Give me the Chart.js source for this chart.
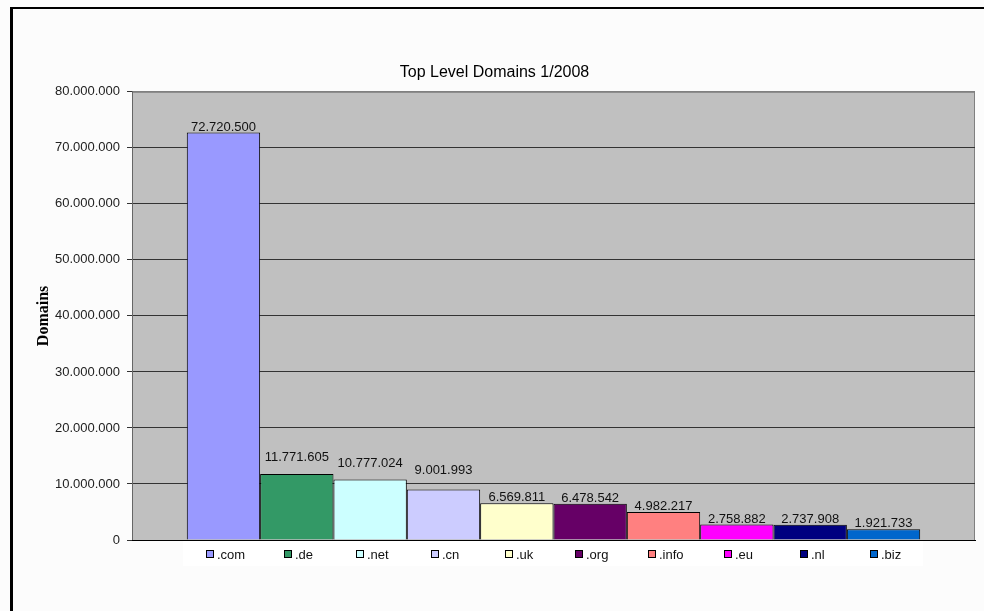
<!DOCTYPE html>
<html>
<head>
<meta charset="utf-8">
<script src="https://cdn.jsdelivr.net/npm/chart.js@4/dist/chart.umd.min.js"></script>
<style>
  html, body { margin: 0; padding: 0; background: #fcfcfc; }
  canvas { display: block; }
</style>
</head>
<body>
<canvas id="tldChart" width="984" height="611"></canvas>
<script>
// Dados
const domains = ['.com', '.de', '.net', '.cn', '.uk', '.org', '.info', '.eu', '.nl', '.biz'];
const counts = [72720500, 11771605, 10777024, 9001993, 6569811, 6478542, 4982217, 2758882, 2737908, 1921733];
const barColors = ['#9999FF', '#339966', '#CCFFFF', '#CCCCFF', '#FFFFCC', '#660066', '#FF8080', '#FF00FF', '#000080', '#0066CC'];
const yMax = 80000000;
const yStep = 10000000;

const FONT = 'Arial, "Liberation Sans", sans-serif';
// alguns rótulos foram levantados à mão no original
const labelLift = [0, 11, 11, 14, 0, 0, 0, 0, 0, 0];

// 72720500 -> 72.720.500
function fmt(v) {
  return String(Math.round(v)).replace(/\B(?=(\d{3})+(?!\d))/g, '.');
}

// Fundo, moldura e área do gráfico
const backgroundPlugin = {
  id: 'background',
  beforeDraw(chart) {
    const { ctx, chartArea: a, width, height } = chart;
    ctx.save();
    ctx.fillStyle = '#fcfcfc';
    ctx.fillRect(0, 0, width, height);
    ctx.fillStyle = '#000';
    ctx.fillRect(10, 7, 3, height - 7);
    ctx.fillRect(10, 7, width - 10, 2);
    ctx.fillStyle = '#c0c0c0';
    ctx.fillRect(a.left, a.top, a.right - a.left, a.bottom - a.top);
    ctx.strokeStyle = '#808080';
    ctx.lineWidth = 1;
    ctx.strokeRect(a.left + 0.5, a.top + 0.5, a.right - a.left - 1, a.bottom - a.top);
    ctx.restore();
  }
};

// Rótulos de valor acima das barras
const valueLabels = {
  id: 'valueLabels',
  afterDatasetsDraw(chart) {
    const { ctx } = chart;
    ctx.save();
    ctx.font = '13px ' + FONT;
    ctx.fillStyle = '#111';
    ctx.textAlign = 'center';
    ctx.textBaseline = 'alphabetic';
    chart.data.datasets.forEach((ds, i) => {
      const bar = chart.getDatasetMeta(i).data[0];
      ctx.fillText(fmt(ds.data[0]), bar.x, bar.y - 2 - labelLift[i]);
    });
    ctx.restore();
  }
};

// Legenda estilo Excel, cada item centrado sob a sua barra
const excelLegend = {
  id: 'excelLegend',
  afterDraw(chart) {
    const { ctx, chartArea: a } = chart;
    const n = chart.data.datasets.length;
    const first = chart.getDatasetMeta(0).data[0];
    const last = chart.getDatasetMeta(n - 1).data[0];
    const boxLeft = first.x - first.width / 2 - 4;
    const boxRight = last.x + last.width / 2 + 3;
    ctx.save();
    ctx.fillStyle = '#fff';
    ctx.fillRect(boxLeft, a.bottom + 1, boxRight - boxLeft, 25);
    ctx.font = '13px ' + FONT;
    ctx.textBaseline = 'middle';
    ctx.textAlign = 'left';
    const y = a.bottom + 14;
    chart.data.datasets.forEach((ds, i) => {
      const bar = chart.getDatasetMeta(i).data[0];
      const tw = ctx.measureText(ds.label).width;
      const w = 8 + 3 + tw;
      const x0 = Math.round(bar.x + 2 - w / 2);
      ctx.fillStyle = ds.backgroundColor;
      ctx.fillRect(x0, y - 4, 8, 8);
      ctx.strokeStyle = '#000';
      ctx.lineWidth = 1;
      ctx.strokeRect(x0 + 0.5, y - 3.5, 7, 7);
      ctx.fillStyle = '#111';
      ctx.fillText(ds.label, x0 + 11, y + 1);
    });
    ctx.restore();
  }
};

function initChart() {
  const ctx = document.getElementById('tldChart');
  if (!ctx) return;

  new Chart(ctx, {
    type: 'bar',
    data: {
      labels: [''],
      datasets: domains.map((d, i) => ({
        label: d,
        data: [counts[i]],
        backgroundColor: barColors[i],
        borderColor: '#000',
        borderWidth: 1,
        borderSkipped: 'bottom',
        barPercentage: 1,
        categoryPercentage: 0.87
      }))
    },
    options: {
      responsive: false,
      animation: false,
      layout: {
        padding: { left: 14, right: 9, top: 0, bottom: 71 }
      },
      plugins: {
        legend: { display: false },
        tooltip: { enabled: false },
        title: {
          display: true,
          text: 'Top Level Domains 1/2008',
          color: '#000',
          font: { family: FONT, size: 16, weight: 'normal' },
          padding: { top: 63, bottom: 9.6 }
        }
      },
      scales: {
        y: {
          min: 0,
          max: yMax,
          ticks: {
            stepSize: yStep,
            color: '#222',
            padding: 7,
            font: { family: FONT, size: 13 },
            callback: v => fmt(v)
          },
          grid: {
            color: c => (c.tick && c.tick.value === yMax) ? '#808080' : '#333',
            tickColor: '#333',
            tickLength: 5
          },
          border: { color: '#666', width: 1 },
          title: {
            display: true,
            text: 'Domains',
            color: '#000',
            font: { family: '"Times New Roman", "Liberation Serif", serif', size: 16, weight: 'bold' },
            padding: { top: 20, bottom: 0 }
          },
          afterFit: scale => { scale.width = 118; }
        },
        x: {
          ticks: { display: false },
          grid: { display: false },
          border: { color: '#000', width: 1 },
          afterFit: scale => { scale.height = 0; }
        }
      }
    },
    plugins: [backgroundPlugin, valueLabels, excelLegend]
  });
}

document.addEventListener('DOMContentLoaded', () => {
  initChart();
});
</script>
</body>
</html>
